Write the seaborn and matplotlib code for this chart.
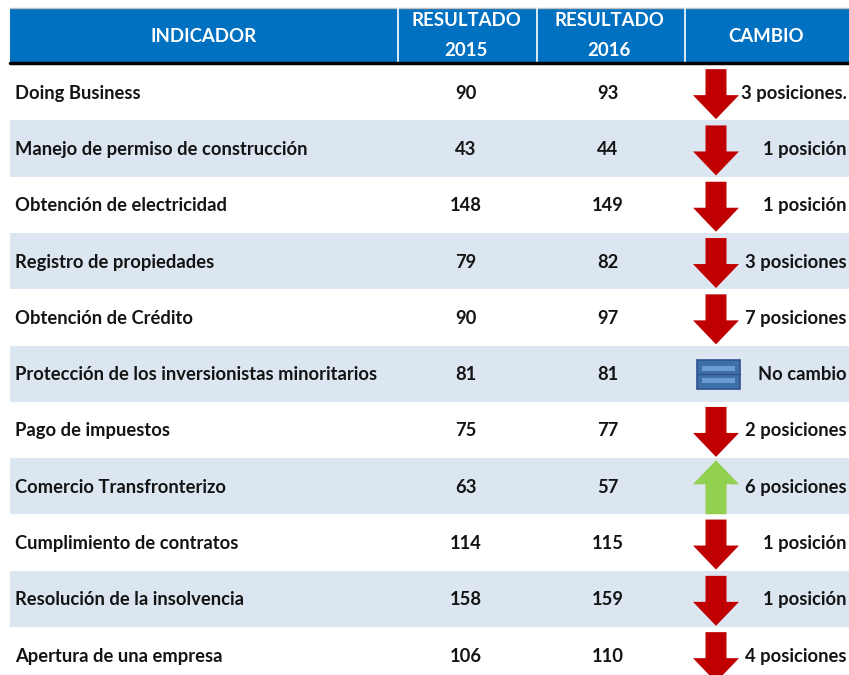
import numpy as np
import pandas as pd
import seaborn as sns
import matplotlib
matplotlib.use("Agg")
import matplotlib.pyplot as plt
from matplotlib.patches import Polygon, Rectangle

# ---------------- data ----------------
indicadores = [
    "Doing Business",
    "Manejo de permiso de construcción",
    "Obtención de electricidad",
    "Registro de propiedades",
    "Obtención de Crédito",
    "Protección de los inversionistas minoritarios",
    "Pago de impuestos",
    "Comercio Transfronterizo",
    "Cumplimiento de contratos",
    "Resolución de la insolvencia",
    "Apertura de una empresa",
]
resultado_2015 = [90, 43, 148, 79, 90, 81, 75, 63, 114, 158, 106]
resultado_2016 = [93, 44, 149, 82, 97, 81, 77, 57, 115, 159, 110]
cambio_texto = [
    "3 posiciones.", "1 posición", "1 posición", "3 posiciones",
    "7 posiciones", "No cambio", "2 posiciones", "6 posiciones",
    "1 posición", "1 posición", "4 posiciones",
]
header = ["INDICADOR", "RESULTADO\n2015", "RESULTADO\n2016", "CAMBIO"]

df = pd.DataFrame({
    "indicador": indicadores,
    "r2015": resultado_2015,
    "r2016": resultado_2016,
    "cambio": cambio_texto,
})
# direction of change in ranking (negative = worse position)
df["delta"] = df["r2015"] - df["r2016"]

# ---------------- style ----------------
sns.set_theme(style="white")
plt.rcParams["font.family"] = ["Lato", "DejaVu Sans"]

W, H = 849, 675
fig = plt.figure(figsize=(W / 100, H / 100), dpi=100)
ax = fig.add_axes([0, 0, 1, 1])
ax.set_xlim(0, W)
ax.set_ylim(H, 0)
ax.axis("off")

# layout
x_left, x_right = 10, 849
col_edges = [x_left, 398, 537, 685, x_right]
head_top, head_bot = 8, 63
row_h = 56.3
txt_color = "#141414"
blue = "#0070C0"
stripe = "#DCE6F1"
red = "#C00000"
green = "#92D050"
fs = 13.2
hfs = 13.4

# header
ax.add_patch(Rectangle((x_left, head_top), x_right - x_left, head_bot - head_top,
                       facecolor=blue, edgecolor="none", zorder=1))
ax.plot([x_left, x_right], [head_top, head_top], color="#BFBFBF", lw=1, zorder=2)
for xe in col_edges[1:-1]:
    ax.plot([xe, xe], [head_top, head_bot], color="white", lw=1.2, zorder=2)
ax.plot([x_left, x_right], [head_bot, head_bot], color="black", lw=2.5, zorder=3)

hc = [204, 466, 609, 766]
for i, h in enumerate(header):
    lines = h.split("\n")
    if len(lines) == 1:
        ax.text(hc[i], (head_top + head_bot) / 2 + 1, h, ha="center", va="center",
                color="white", fontsize=hfs, fontweight="bold")
    else:
        ax.text(hc[i], head_top + 13, lines[0], ha="center", va="center",
                color="white", fontsize=hfs, fontweight="bold")
        ax.text(hc[i], head_top + 42, lines[1], ha="center", va="center",
                color="white", fontsize=hfs, fontweight="bold")

# rows
arrow_x = 716
for i, r in df.iterrows():
    y0 = head_bot + 1 + i * row_h
    yc = y0 + row_h / 2 + 1
    if i % 2 == 1:
        ax.add_patch(Rectangle((x_left, y0), x_right - x_left, row_h,
                               facecolor=stripe, edgecolor="none", zorder=0))
    ax.text(15, yc, r["indicador"], ha="left", va="center", color=txt_color,
            fontsize=fs, fontweight="bold", zorder=5)
    ax.text(466, yc, str(r["r2015"]), ha="center", va="center", color=txt_color,
            fontsize=fs, fontweight="bold", zorder=5)
    ax.text(608, yc, str(r["r2016"]), ha="center", va="center", color=txt_color,
            fontsize=fs, fontweight="bold", zorder=5)
    ax.text(847, yc, r["cambio"], ha="right", va="center", color=txt_color,
            fontsize=fs, fontweight="bold", zorder=5)

    d = r["delta"]
    sw, hw, hl, total = 10.5, 23, 24, 50
    if d < 0:
        top = yc - 24
        bot = top + total
        pts = [(arrow_x - sw, top), (arrow_x + sw, top), (arrow_x + sw, bot - hl),
               (arrow_x + hw, bot - hl), (arrow_x, bot), (arrow_x - hw, bot - hl),
               (arrow_x - sw, bot - hl)]
        ax.add_patch(Polygon(pts, closed=True, facecolor=red, edgecolor="none", zorder=6))
    elif d > 0:
        bot = yc + 27
        top = bot - 54
        pts = [(arrow_x - sw, bot), (arrow_x + sw, bot), (arrow_x + sw, top + hl),
               (arrow_x + hw, top + hl), (arrow_x, top), (arrow_x - hw, top + hl),
               (arrow_x - sw, top + hl)]
        ax.add_patch(Polygon(pts, closed=True, facecolor=green, edgecolor="none", zorder=6))
    else:
        bx, by, bw, bh = arrow_x - 19, yc - 15, 43, 29
        ax.add_patch(Rectangle((bx, by), bw, bh, facecolor="#3E6FA6",
                               edgecolor="#2F528F", lw=1.2, zorder=6))
        for k in range(2):
            ax.add_patch(Rectangle((bx + 5, by + 6 + k * 12), bw - 10, 5,
                                   facecolor="#6A9BD4", edgecolor="none", zorder=7))
        ax.plot([bx, bx + bw], [by + bh / 2, by + bh / 2], color="#2F528F", lw=1, zorder=7)

fig.savefig("out.png", dpi=100, facecolor="white")
